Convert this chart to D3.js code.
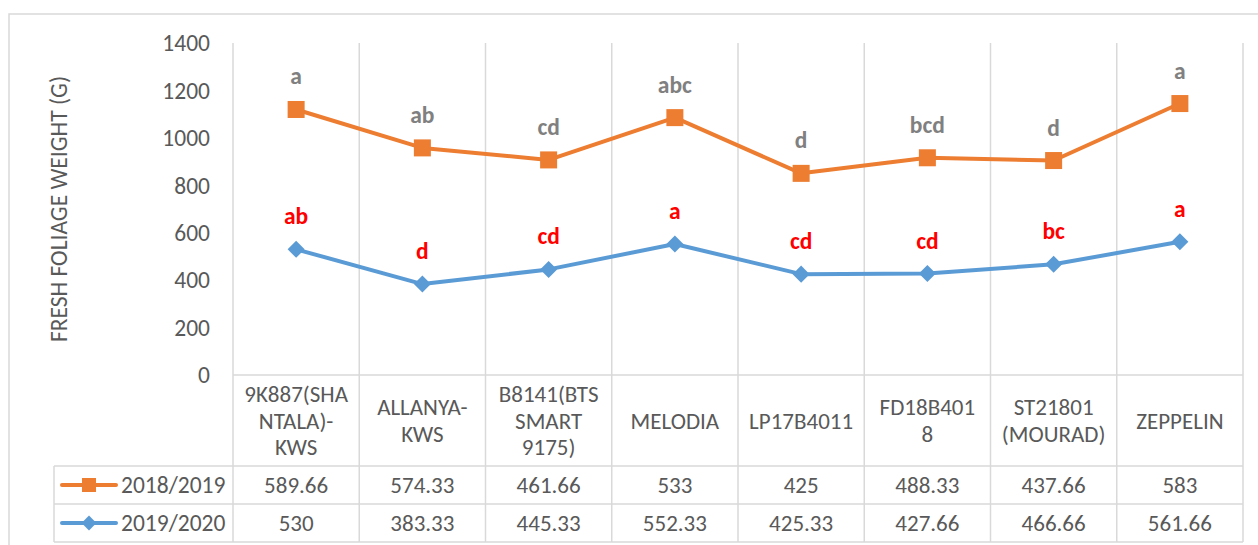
<!doctype html>
<html>
<head>
<meta charset="utf-8">
<title>Fresh foliage weight</title>
<script src="https://cdnjs.cloudflare.com/ajax/libs/d3/7.8.5/d3.min.js"></script>
<style>
  body { margin: 0; background: #fff; }
  svg text { font-family: Calibri, Carlito, Lato, sans-serif; fill: #595959; }
</style>
</head>
<body>
<div id="chart"></div>
<script>
// data
var categories = ["9K887(SHANTALA)-KWS", "ALLANYA-KWS", "B8141(BTS SMART 9175)", "MELODIA",
                  "LP17B4011", "FD18B4018", "ST21801 (MOURAD)", "ZEPPELIN"];
var categoryLines = [["9K887(SHA", "NTALA)-", "KWS"], ["ALLANYA-", "KWS"], ["B8141(BTS", "SMART", "9175)"],
                     ["MELODIA"], ["LP17B4011"], ["FD18B401", "8"], ["ST21801", "(MOURAD)"], ["ZEPPELIN"]];
var values2018 = [589.66, 574.33, 461.66, 533, 425, 488.33, 437.66, 583];
var values2019 = [530, 383.33, 445.33, 552.33, 425.33, 427.66, 466.66, 561.66];
var letters2018 = ["a", "ab", "cd", "abc", "d", "bcd", "d", "a"];
var letters2019 = ["ab", "d", "cd", "a", "cd", "cd", "bc", "a"];
var seriesNames = ["2018/2019", "2019/2020"];
var yTicks = [0, 200, 400, 600, 800, 1000, 1200, 1400];

var width = 1258, height = 545;
var orange = "#ED7D31", blue = "#5B9BD5", gridColor = "#D9D9D9";

var svg = d3.select("#chart").append("svg")
    .attr("width", width)
    .attr("height", height);

// stacked line chart: 2019/2020 at the bottom, 2018/2019 on top of it
var rows = categories.map(function(c, i) {
  return { cat: c, s2018: values2018[i], s2019: values2019[i] };
});
var stacked = d3.stack().keys(["s2019", "s2018"])(rows);
var lower = stacked[0], upper = stacked[1];

var x = d3.scaleBand().domain(categories).range([233, 1243]);
var y = d3.scaleLinear().domain([0, 1400]).range([375, 43]);
var rowY = [375, 466, 504, 542];
var legendLeft = 54;

function cx(d) { return x(d.data.cat) + x.bandwidth() / 2; }

// chart border
svg.append("path")
    .attr("d", "M9," + height + "V14H" + width)
    .attr("fill", "none")
    .attr("stroke", gridColor)
    .attr("stroke-width", 1.5);

// vertical grid / table columns
var bounds = categories.map(function(c) { return x(c); }).concat([x.range()[1]]);
svg.append("g").selectAll("line")
    .data(bounds)
  .enter().append("line")
    .attr("x1", function(d) { return d; })
    .attr("x2", function(d) { return d; })
    .attr("y1", y(1400))
    .attr("y2", rowY[3])
    .attr("stroke", gridColor)
    .attr("stroke-width", 1.5);

// table rows
svg.append("g").selectAll("line")
    .data(rowY)
  .enter().append("line")
    .attr("x1", function(d, i) { return i === 0 ? x.range()[0] : legendLeft; })
    .attr("x2", x.range()[1])
    .attr("y1", function(d) { return d; })
    .attr("y2", function(d) { return d; })
    .attr("stroke", gridColor)
    .attr("stroke-width", 1.5);
svg.append("line")
    .attr("x1", legendLeft).attr("x2", legendLeft)
    .attr("y1", rowY[1]).attr("y2", rowY[3])
    .attr("stroke", gridColor).attr("stroke-width", 1.5);

// y axis labels
svg.append("g").selectAll("text")
    .data(yTicks)
  .enter().append("text")
    .attr("x", 210)
    .attr("y", function(d) { return y(d); })
    .attr("dy", "0.35em")
    .attr("text-anchor", "end")
    .style("font-size", "23.5px")
    .text(function(d) { return d; });

svg.append("text")
    .attr("transform", "translate(67," + 209 + ") rotate(-90)")
    .attr("text-anchor", "middle")
    .style("font-size", "23.5px")
    .text("FRESH FOLIAGE WEIGHT (G)");

// category header cells
var header = svg.append("g").selectAll("text")
    .data(categories)
  .enter().append("text")
    .attr("text-anchor", "middle")
    .style("font-size", "23px");
header.each(function(c, i) {
  var lines = categoryLines[i];
  var cy = (rowY[0] + rowY[1]) / 2;
  d3.select(this).selectAll("tspan")
      .data(lines)
    .enter().append("tspan")
      .attr("x", x(c) + x.bandwidth() / 2)
      .attr("y", function(d, k) { return cy + (k - (lines.length - 1) / 2) * 26.5; })
      .attr("dy", "0.35em")
      .text(function(d) { return d; });
});

// lines and markers
var line = d3.line()
    .x(cx)
    .y(function(d) { return y(d[1]); });

svg.append("path").datum(lower)
    .attr("d", line)
    .attr("fill", "none")
    .attr("stroke", blue)
    .attr("stroke-width", 4)
    .attr("stroke-linejoin", "round");
svg.append("path").datum(upper)
    .attr("d", line)
    .attr("fill", "none")
    .attr("stroke", orange)
    .attr("stroke-width", 4)
    .attr("stroke-linejoin", "round");

var diamond = d3.symbol().type(d3.symbolDiamond2).size(185);
svg.append("g").selectAll("path")
    .data(lower)
  .enter().append("path")
    .attr("d", diamond)
    .attr("transform", function(d) { return "translate(" + cx(d) + "," + y(d[1]) + ")"; })
    .attr("fill", blue);

svg.append("g").selectAll("rect")
    .data(upper)
  .enter().append("rect")
    .attr("x", function(d) { return cx(d) - 8.5; })
    .attr("y", function(d) { return y(d[1]) - 8.5; })
    .attr("width", 17)
    .attr("height", 17)
    .attr("fill", orange);

// significance letters
svg.append("g").selectAll("text")
    .data(upper)
  .enter().append("text")
    .attr("x", cx)
    .attr("y", function(d) { return y(d[1]) - 25; })
    .attr("text-anchor", "middle")
    .style("font-size", "23.5px")
    .style("font-weight", "bold")
    .style("fill", "#808080")
    .text(function(d, i) { return letters2018[i]; });

svg.append("g").selectAll("text")
    .data(lower)
  .enter().append("text")
    .attr("x", cx)
    .attr("y", function(d) { return y(d[1]) - 25; })
    .attr("text-anchor", "middle")
    .style("font-size", "23.5px")
    .style("font-weight", "bold")
    .style("fill", "#FF0000")
    .text(function(d, i) { return letters2019[i]; });

// data table rows
var tableRows = [
  { name: seriesNames[0], values: values2018, color: orange, marker: "square" },
  { name: seriesNames[1], values: values2019, color: blue, marker: "diamond" }
];
tableRows.forEach(function(r, ri) {
  var cy = (rowY[ri + 1] + rowY[ri + 2]) / 2;
  var g = svg.append("g");
  g.append("line")
      .attr("x1", 62).attr("x2", 116)
      .attr("y1", cy).attr("y2", cy)
      .attr("stroke", r.color)
      .attr("stroke-width", 4)
      .attr("stroke-linecap", "round");
  if (r.marker === "square") {
    g.append("rect")
        .attr("x", 89 - 7).attr("y", cy - 7)
        .attr("width", 14).attr("height", 14)
        .attr("fill", r.color);
  } else {
    g.append("path")
        .attr("d", d3.symbol().type(d3.symbolDiamond2).size(140))
        .attr("transform", "translate(89," + cy + ")")
        .attr("fill", r.color);
  }
  g.append("text")
      .attr("x", 121)
      .attr("y", cy)
      .attr("dy", "0.35em")
      .style("font-size", "23.5px")
      .text(r.name);
  g.selectAll("text.val")
      .data(r.values)
    .enter().append("text")
      .attr("class", "val")
      .attr("x", function(d, i) { return x(categories[i]) + x.bandwidth() / 2; })
      .attr("y", cy)
      .attr("dy", "0.35em")
      .attr("text-anchor", "middle")
      .style("font-size", "23px")
      .text(function(d) { return d; });
});
</script>
</body>
</html>
